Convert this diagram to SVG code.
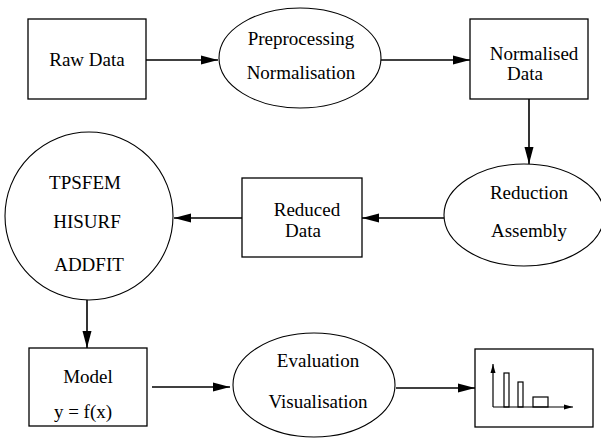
<svg xmlns="http://www.w3.org/2000/svg" width="601" height="438" viewBox="0 0 601 438">
<style>
.box{fill:none;stroke:#000;stroke-width:1.3}
.ell{fill:none;stroke:#000;stroke-width:1.1}
.edge{fill:none;stroke:#000;stroke-width:1.6}
.ax{fill:none;stroke:#000;stroke-width:1.2}
text{font-family:"Liberation Serif","Times New Roman",serif;font-size:19px;fill:#000;text-anchor:middle}
</style>
<defs>
<marker id="ah" markerUnits="userSpaceOnUse" markerWidth="18" markerHeight="10" refX="17" refY="5" orient="auto">
<path d="M0,0.5 L17,5 L0,9.5 z" fill="#000"/>
</marker>
<marker id="ahs" markerUnits="userSpaceOnUse" markerWidth="10" markerHeight="6" refX="9" refY="3" orient="auto">
<path d="M0,0.5 L9,3 L0,5.5 z" fill="#000"/>
</marker>
</defs>
<g id="raw"><rect class="box" x="28" y="19" width="118" height="80"/><text x="87" y="66">Raw Data</text></g>
<g id="preproc"><ellipse class="ell" cx="300" cy="58" rx="81" ry="50"/><text x="301" y="45">Preprocessing</text><text x="301" y="79">Normalisation</text></g>
<g id="normdata"><rect class="box" x="470" y="19" width="118" height="80"/><text x="534" y="60">Normalised</text><text x="525" y="80">Data</text></g>
<g id="reduction"><ellipse class="ell" cx="524" cy="215" rx="80" ry="51"/><text x="529" y="199">Reduction</text><text x="529" y="237">Assembly</text></g>
<g id="reduced"><rect class="box" x="242" y="178" width="120" height="79"/><text x="307" y="216">Reduced</text><text x="303" y="237">Data</text></g>
<g id="methods"><circle class="ell" cx="89" cy="216" r="84"/><text x="85" y="189">TPSFEM</text><text x="87" y="228">HISURF</text><text x="89" y="271">ADDFIT</text></g>
<g id="model"><rect class="box" x="29" y="348" width="118" height="78"/><text x="88" y="383">Model</text><text x="83" y="418">y = f(x)</text></g>
<g id="evaluation"><ellipse class="ell" cx="314" cy="385" rx="81" ry="52"/><text x="318" y="367">Evaluation</text><text x="318" y="408">Visualisation</text></g>
<g id="chart"><rect class="box" x="475" y="349" width="118" height="78"/>
<line class="ax" x1="493" y1="407" x2="493" y2="364" marker-end="url(#ahs)"/>
<line class="ax" x1="493" y1="407" x2="573" y2="407" marker-end="url(#ahs)"/>
<rect class="ax" x="504" y="373" width="5" height="34"/>
<rect class="ax" x="518" y="382" width="5" height="25"/>
<rect class="ax" x="533" y="397" width="15" height="10"/>
</g>
<g id="connectors">
<line class="edge" x1="146" y1="60" x2="218" y2="60" marker-end="url(#ah)"/>
<line class="edge" x1="381" y1="60" x2="470" y2="60" marker-end="url(#ah)"/>
<line class="edge" x1="529" y1="99" x2="529" y2="164" marker-end="url(#ah)"/>
<line class="edge" x1="444" y1="218" x2="362" y2="218" marker-end="url(#ah)"/>
<line class="edge" x1="242" y1="218" x2="174" y2="218" marker-end="url(#ah)"/>
<line class="edge" x1="87" y1="300" x2="87" y2="348" marker-end="url(#ah)"/>
<line class="edge" x1="152" y1="387" x2="230" y2="387" marker-end="url(#ah)"/>
<line class="edge" x1="396" y1="388" x2="475" y2="388" marker-end="url(#ah)"/>
</g>
</svg>
